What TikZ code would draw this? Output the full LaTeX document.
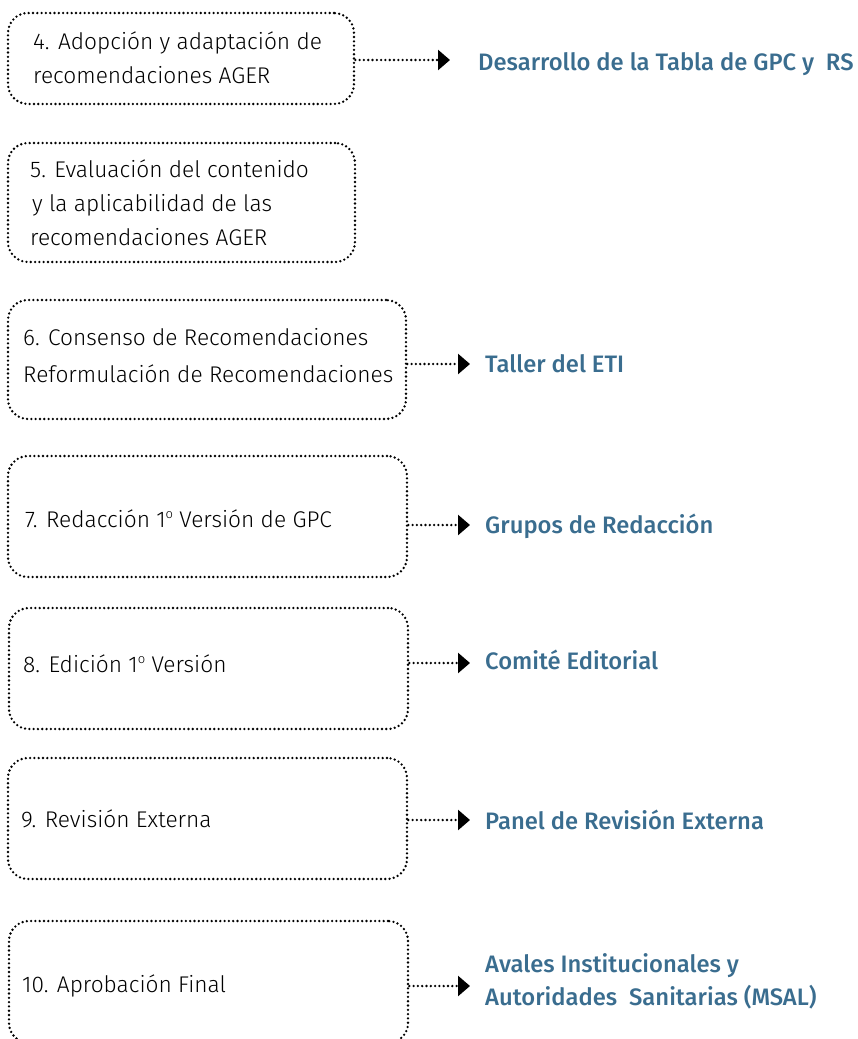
\documentclass[tikz,border=0pt]{standalone}
\usepackage{fontspec}
\setmainfont{Fira Sans}
\newfontfamily\lightfont{Fira Sans Light}
\newfontfamily\medfont{Fira Sans Medium}
\usetikzlibrary{arrows.meta}
\definecolor{lblblue}{HTML}{3A6D8F}
\newcommand{\ordo}{\raisebox{0.75ex}{\fontsize{13}{13}\selectfont o}}
\tikzset{
  stepbox/.style={draw, line width=2.6pt, dash pattern=on 0pt off 4.3pt, line cap=round, rounded corners=20pt, inner sep=0pt},
  boxtext/.style={anchor=base west, inner sep=0pt, font=\lightfont\fontsize{22.7}{34}\selectfont, align=left},
  lbl/.style={anchor=base west, inner sep=0pt, font=\medfont\fontsize{23.8}{33}\selectfont, text=lblblue, align=left},
  conn/.style={line width=2.6pt, dash pattern=on 0pt off 4.3pt, line cap=round, -{Triangle[length=12pt,width=20pt]}}
}
\begin{document}
\begin{tikzpicture}[x=1pt,y=-1pt]
\useasboundingbox (0,0) rectangle (858,1039);
\clip (0,0) rectangle (858,1039);
% boxes
\node[stepbox, minimum width=346pt, minimum height=91pt] (b4) at (181,58.5) {};
\node[stepbox, minimum width=347pt, minimum height=119pt] (b5) at (181.5,202.5) {};
\node[stepbox, minimum width=398pt, minimum height=119pt] (b6) at (207,359.5) {};
\node[stepbox, minimum width=399pt, minimum height=121pt] (b7) at (207.5,516.5) {};
\node[stepbox, minimum width=399pt, minimum height=121pt] (b8) at (208.5,668.5) {};
\node[stepbox, minimum width=399pt, minimum height=121pt] (b9) at (207.5,818.5) {};
\node[stepbox, minimum width=399pt, minimum height=122pt] (b10) at (208.5,982) {};
% box texts (base = baseline of last line)
\node[boxtext] (t4) at (33,83) {4. Adopción y adaptación de\\recomendaciones AGER};
\node[boxtext] (t5) at (30,245) {5. Evaluación del contenido\\\hspace{2pt}y la aplicabilidad de las\\recomendaciones AGER};
\node[boxtext] (t6) at (23,382) {6. Consenso de Recomendaciones\\[3pt]Reformulación de Recomendaciones};
\node[boxtext] (t7) at (25,527) {7. Redacción 1\ordo{} Versión de GPC};
\node[boxtext] (t8) at (23,672) {8. Edición 1\ordo{} Versión};
\node[boxtext] (t9) at (21,827) {9. Revisión Externa};
\node[boxtext] (t10) at (22,992) {10. Aprobación Final};
% labels
\node[lbl] (l4) at (478,70) {Desarrollo de la Tabla de GPC y\ \ RS};
\node[lbl] (l6) at (485,372) {Taller del ETI};
\node[lbl] (l7) at (485,533) {Grupos de Redacción};
\node[lbl] (l8) at (485,669) {Comité Editorial};
\node[lbl] (l9) at (485,829) {Panel de Revisión Externa};
\node[lbl] (l10) at (485,1005) {Avales Institucionales y\\Autoridades\ \ Sanitarias (MSAL)};
% arrow tips
\coordinate (p4) at (450,60);
\coordinate (p6) at (470,364);
\coordinate (p7) at (470,525);
\coordinate (p8) at (470,663);
\coordinate (p9) at (470,820);
\coordinate (p10) at (470,986);
\draw[conn] (b4.east |- p4) -- (p4);
\draw[conn] (b6.east |- p6) -- (p6);
\draw[conn] (b7.east |- p7) -- (p7);
\draw[conn] (b8.east |- p8) -- (p8);
\draw[conn] (b9.east |- p9) -- (p9);
\draw[conn] (b10.east |- p10) -- (p10);
\end{tikzpicture}
\end{document}
